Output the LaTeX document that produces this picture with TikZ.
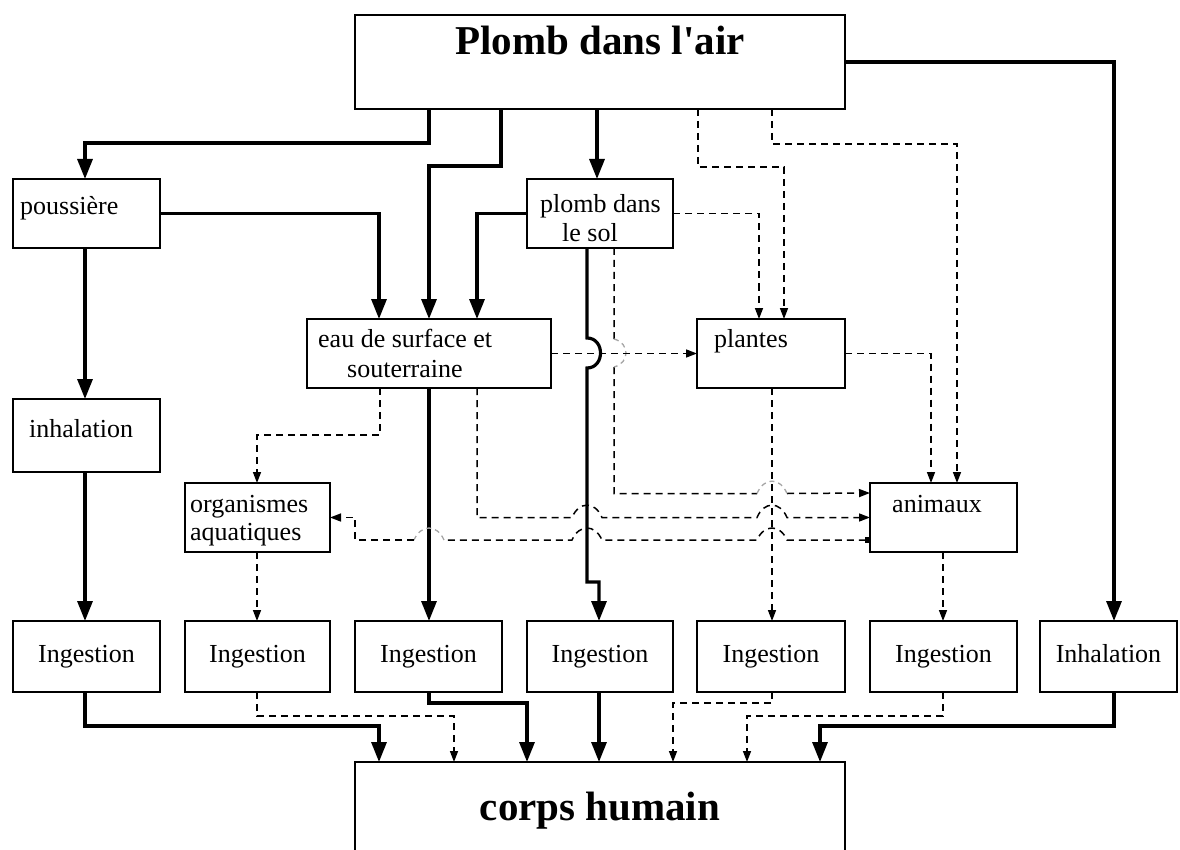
\documentclass[tikz,border=0pt]{standalone}
\usepackage{fontspec}
\setmainfont{Liberation Serif}
\usetikzlibrary{arrows.meta}
\begin{document}
\begin{tikzpicture}[x=1pt,y=-1pt,
  box/.style={draw, line width=1.6pt, anchor=north west, inner sep=0pt, outer sep=0pt,
              font=\fontsize{26}{29}\selectfont, text height=18pt, text depth=6pt},
  lbl/.style={anchor=base west, inner sep=0pt, font=\fontsize{26}{29}\selectfont},
  ttl/.style={anchor=base, inner sep=0pt, font=\fontsize{41}{46}\selectfont\bfseries},
  strong/.style={line width=3.2pt, -{Triangle[length=20pt,width=15pt]}},
  weak/.style={line width=1.5pt, dash pattern=on 7pt off 5pt, -{Triangle[length=11pt,width=8pt]}},
  weakline/.style={line width=1.5pt, dash pattern=on 7pt off 5pt},
  hopfaint/.style={line width=1.3pt, dash pattern=on 5pt off 4pt, draw=black!35},
]
\clip (0,0) rectangle (1180,850);

% ---- boxes ----
\node[box, minimum width=490pt, minimum height=94pt] (air) at (355,15) {};
\node[box, minimum width=147pt, minimum height=69pt] (pous) at (13,179) {};
\node[box, minimum width=146pt, minimum height=69pt] (sol) at (527,179) {};
\node[box, minimum width=244pt, minimum height=69pt] (eau) at (307,319) {};
\node[box, minimum width=148pt, minimum height=69pt] (plantes) at (697,319) {};
\node[box, minimum width=147pt, minimum height=73pt] (inh) at (13,399) {};
\node[box, minimum width=145pt, minimum height=69pt] (org) at (185,483) {};
\node[box, minimum width=147pt, minimum height=69pt] (anim) at (870,483) {};

\node[box, minimum width=147pt, minimum height=71pt] (ing1) at (13,621) {Ingestion};
\node[box, minimum width=145pt, minimum height=71pt] (ing2) at (185,621) {Ingestion};
\node[box, minimum width=147pt, minimum height=71pt] (ing3) at (355,621) {Ingestion};
\node[box, minimum width=146pt, minimum height=71pt] (ing4) at (527,621) {Ingestion};
\node[box, minimum width=148pt, minimum height=71pt] (ing5) at (697,621) {Ingestion};
\node[box, minimum width=147pt, minimum height=71pt] (ing6) at (870,621) {Ingestion};
\node[box, minimum width=137pt, minimum height=71pt] (inhal) at (1040,621) {Inhalation};

\node[box, minimum width=490pt, minimum height=100pt] (corps) at (355,762) {};

% ---- box texts ----
\node[ttl] (t-air) at (600,55) {Plomb dans l\textquotesingle air};
\node[ttl] (t-corps) at (600,820) {corps humain};
\node[lbl] (t-pous) at (20,215) {poussière};
\node[lbl] (t-sol1) at (540,213) {plomb dans};
\node[lbl] (t-sol2) at (562,242) {le sol};
\node[lbl] (t-eau1) at (318,347) {eau de surface et};
\node[lbl] (t-eau2) at (347,377) {souterraine};
\node[lbl] (t-plantes) at (714,347) {plantes};
\node[lbl] (t-inh) at (29,437) {inhalation};
\node[lbl] (t-org1) at (190,512) {organismes};
\node[lbl] (t-org2) at (190,540) {aquatiques};
\node[lbl] (t-anim) at (892,512) {animaux};

% ---- main (solid) pathways ----
\draw[strong] ([xshift=74pt]air.south west) -- ++(0,34) -| ([xshift=72pt]pous.north west);
\draw[strong] ([xshift=146pt]air.south west) -- ++(0,57) -| ([xshift=122pt]eau.north west);
\draw[strong] ([xshift=242pt]air.south west) -- ([xshift=70pt]sol.north west);
\draw[strong] ([yshift=-47pt]air.north east) -| ([xshift=74pt]inhal.north west);
\draw[strong] (pous.east) -| ([xshift=72pt]eau.north west);
\draw[strong] (sol.west) -| ([xshift=170pt]eau.north west);
\draw[strong] ([xshift=72pt]pous.south west) -- ([xshift=72pt]inh.north west);
\draw[strong] ([xshift=72pt]inh.south west) -- ([xshift=72pt]ing1.north west);
\draw[strong] ([xshift=122pt]eau.south west) -- ([xshift=74pt]ing3.north west);
\draw[strong] ([xshift=60pt]sol.south west) -- (587,338)
  .. controls (605,338) and (605,368) .. (587,368) -- (587,582) -- (599,582)
  -- ([xshift=72pt]ing4.north west);

\draw[strong] ([xshift=72pt]ing1.south west) -- ++(0,34) -| ([xshift=24pt]corps.north west);
\draw[strong] ([xshift=74pt]ing3.south west) -- ++(0,11) -| ([xshift=172pt]corps.north west);
\draw[strong] ([xshift=72pt]ing4.south west) -- ([xshift=244pt]corps.north west);
\draw[strong] ([xshift=74pt]inhal.south west) -- ++(0,34) -| ([xshift=465pt]corps.north west);

% ---- secondary (dashed) pathways ----
\draw[weak] ([xshift=343pt]air.south west) -- ++(0,58) -| ([xshift=87pt]plantes.north west);
\draw[weak] ([xshift=417pt]air.south west) -- ++(0,35) -| ([xshift=87pt]anim.north west);
\draw[weak] (sol.east) -| ([xshift=62pt]plantes.north west);
\draw[weak] ([xshift=87pt]sol.south west) -- (614,339) (614,367) -- (614,493.5)
  -- (757,493.5) (787,493.5) -- ([yshift=-10pt]anim.north west);
\draw[hopfaint] (614,339) .. controls (630,343) and (630,363) .. (614,367);
\draw[hopfaint] (757,493.5) .. controls (764,477) and (780,477) .. (787,493.5);
\draw[weak] (eau.east) -- (plantes.west);
\draw[weak] ([xshift=170pt]eau.south west) -- (477,517.5) -- (572,517.5)
  .. controls (579,501) and (595,501) .. (602,517.5) -- (757,517.5)
  .. controls (764,501) and (780,501) .. (787,517.5) -- (anim.west);
% animaux -> organismes aquatiques, split at the faint hop over the solid line
\draw[weakline, arrows={Square[length=5pt,width=6pt]-}]
  ([yshift=-57pt]anim.north west) -- (787,540)
  .. controls (780,524) and (764,524) .. (757,540) -- (602,540)
  .. controls (595,524) and (579,524) .. (572,540) -- (444,540);
\draw[hopfaint] (444,540) .. controls (437,524) and (421,524) .. (414,540);
\draw[weak] (414,540) -- (355,540) -- (355,517.5) -- (org.east);
\draw[weak] (plantes.east) -| ([xshift=61pt]anim.north west);
\draw[weak] ([xshift=73pt]eau.south west) -- ++(0,47) -| ([xshift=72pt]org.north west);
\draw[weak] ([xshift=75pt]plantes.south west) -- ([xshift=75pt]ing5.north west);
\draw[weak] ([xshift=73pt]anim.south west) -- ([xshift=73pt]ing6.north west);
\draw[weak] ([xshift=72pt]org.south west) -- ([xshift=72pt]ing2.north west);

\draw[weak] ([xshift=72pt]ing2.south west) -- ++(0,24) -| ([xshift=99pt]corps.north west);
\draw[weak] ([xshift=75pt]ing5.south west) -- ++(0,11) -| ([xshift=318pt]corps.north west);
\draw[weak] ([xshift=73pt]ing6.south west) -- ++(0,24) -| ([xshift=392pt]corps.north west);
\end{tikzpicture}
\end{document}
